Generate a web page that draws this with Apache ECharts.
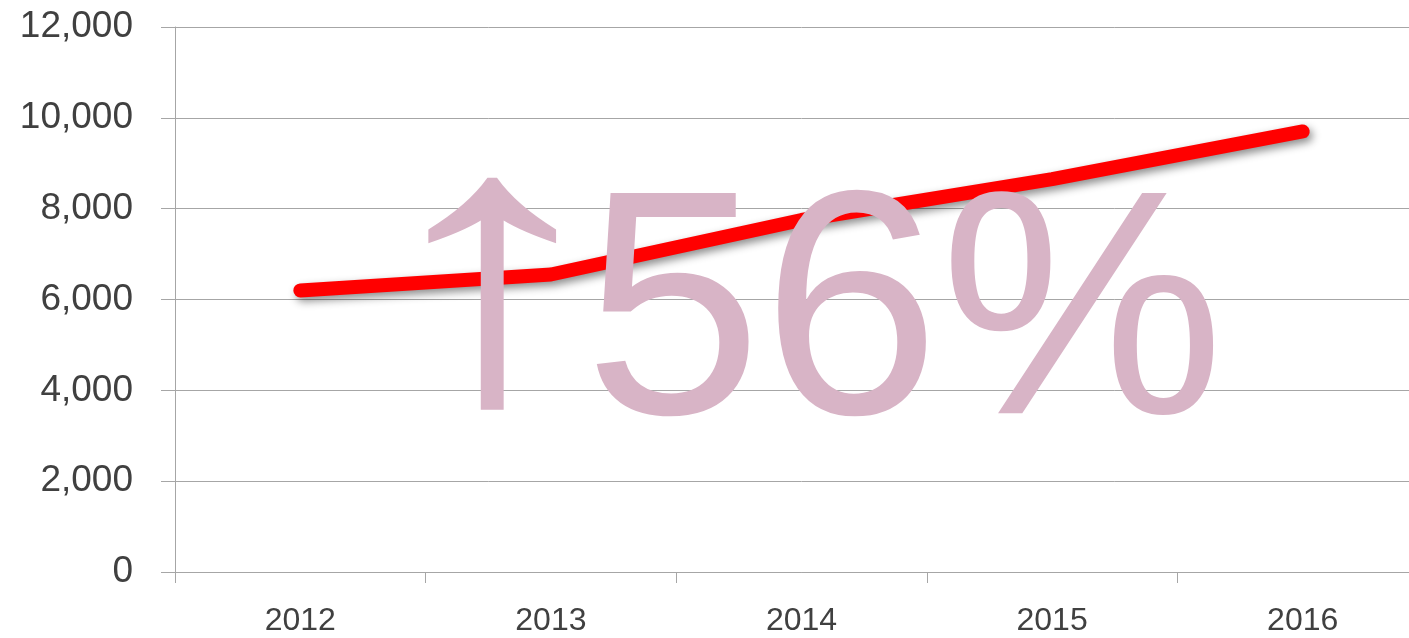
<!DOCTYPE html>
<html>
<head>
<meta charset="utf-8">
<style>
  html, body { margin: 0; padding: 0; background: #fff; overflow: hidden; }
  /* the plot runs a little past the right edge of the window, as in the reference */
  #chart { width: 1428px; height: 638px; }
</style>
<script src="https://cdn.jsdelivr.net/npm/echarts@6/dist/echarts.min.js"></script>
</head>
<body>
<div id="chart"></div>
<script>
// values
const years = ['2012', '2013', '2014', '2015', '2016'];
const values = [6200, 6550, 7750, 8650, 9700];
const yTicks = { min: 0, max: 12000, interval: 2000 };
const arrowLabel = '\u2191';
const pctLabel = '56%';

var chartDom = document.getElementById('chart');
var myChart = echarts.init(chartDom);

var gridColor = '#a6a6a6';
var textColor = '#404040';
var pink = '#d8b4c6';

var option = {
    animation: false,
    backgroundColor: '#fff',
    grid: {
        left: 175,
        right: 0,
        top: 27,
        bottom: 66,
        containLabel: false
    },
    xAxis: {
        type: 'category',
        boundaryGap: true,
        data: years,
        axisLine: { lineStyle: { color: gridColor, width: 1 } },
        axisTick: { show: true, length: 11, lineStyle: { color: gridColor } },
        axisLabel: {
            margin: 33,
            color: textColor,
            fontFamily: 'Liberation Sans',
            fontSize: 32
        }
    },
    yAxis: {
        type: 'value',
        min: yTicks.min,
        max: yTicks.max,
        interval: yTicks.interval,
        axisLine: { show: true, lineStyle: { color: gridColor, width: 1 } },
        axisTick: { show: true, length: 14, lineStyle: { color: gridColor } },
        splitLine: { lineStyle: { color: gridColor, width: 1 } },
        axisLabel: {
            margin: 42,
            color: textColor,
            fontFamily: 'Liberation Sans',
            fontSize: 37,
            formatter: function (v) { return v.toLocaleString('en-US'); }
        }
    },
    series: [
        {
            type: 'line',
            data: values,
            showSymbol: false,
            symbol: 'none',
            z: 2,
            lineStyle: {
                color: '#ff0000',
                width: 14,
                cap: 'round',
                join: 'round',
                shadowColor: 'rgba(0,0,0,0.45)',
                shadowBlur: 8,
                shadowOffsetX: 3,
                shadowOffsetY: 4
            }
        }
    ],
    graphic: [
        {
            // the arrow glyph is wider in the original font, so stretch it a bit
            type: 'text',
            z: 100,
            x: 356,
            y: 94,
            scaleX: 1.39,
            style: {
                text: arrowLabel,
                fill: pink,
                fontFamily: 'Liberation Sans',
                fontSize: 392,
                textAlign: 'left',
                textVerticalAlign: 'top'
            }
        },
        {
            type: 'text',
            z: 100,
            x: 584,
            y: 165,
            style: {
                text: pctLabel,
                fill: pink,
                fontFamily: 'Liberation Sans',
                fontSize: 320,
                textAlign: 'left',
                textVerticalAlign: 'top'
            }
        }
    ]
};

option && myChart.setOption(option);
</script>
</body>
</html>
